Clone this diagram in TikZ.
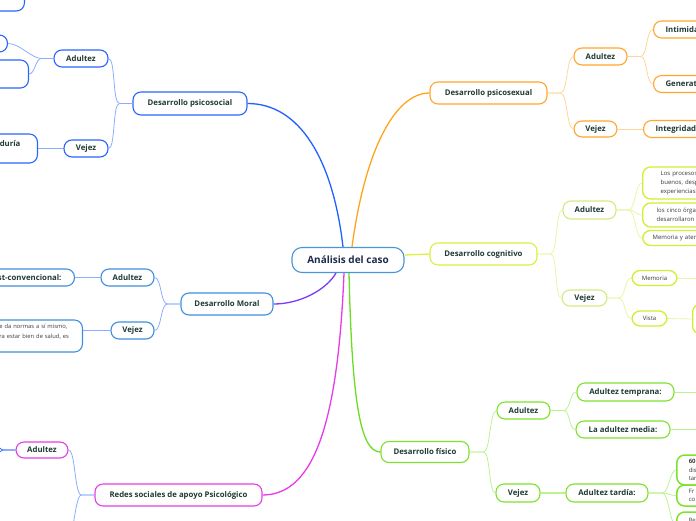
\documentclass[tikz,border=0pt]{standalone}
\usepackage{fontspec}
\setmainfont{Open Sans}
\usetikzlibrary{calc}
\definecolor{cen}{HTML}{4A94DA}
\definecolor{navy}{HTML}{1B2B4B}
\definecolor{txt}{HTML}{1E3B34}
\definecolor{leaftxt}{HTML}{3A3A3A}
\definecolor{orgB}{HTML}{FFA62B}
\definecolor{orgM}{HTML}{FFA41E}
\definecolor{orgS}{HTML}{FFD699}
\definecolor{limeB}{HTML}{D9F03A}
\definecolor{limeP}{HTML}{D3EA80}
\definecolor{limeL}{HTML}{CDF030}
\definecolor{limeM}{HTML}{DDF046}
\definecolor{limeS}{HTML}{E6F6A6}
\definecolor{grnB}{HTML}{7DE22C}
\definecolor{grnM}{HTML}{6BDD22}
\definecolor{grnS}{HTML}{BDF292}
\definecolor{bluB}{HTML}{2A64FF}
\definecolor{bluM}{HTML}{2060FF}
\definecolor{bluS}{HTML}{8EACFF}
\definecolor{bluD}{HTML}{3F70FF}
\definecolor{morB}{HTML}{3D8FE0}
\definecolor{purM}{HTML}{7B3AF5}
\definecolor{magB}{HTML}{E63DE6}
\definecolor{magM}{HTML}{E83AE8}
\tikzset{
  base/.style={draw, fill=white, rounded corners=8pt, line width=1.1pt, inner sep=0pt,
    text=txt, font=\bfseries\fontsize{7.8}{10}\selectfont},
  bx/.style n args={2}{base, minimum width=#1, minimum height=#2},
  leaf/.style={base, line width=1.3pt, text=leaftxt, font=\fontsize{6}{9}\selectfont},
  mainln/.style={line width=1.3pt},
  subln/.style={line width=0.8pt}
}
\begin{document}
\begin{tikzpicture}[x=1pt,y=-1pt]
\useasboundingbox (0,0) rectangle (696,520);
\clip (0,0) rectangle (696,520);

% central
\node[bx={112pt}{25pt}, draw=cen, rounded corners=10pt, text=navy,
  font=\bfseries\fontsize{10}{12}\selectfont] (c) at (348,260) {Análisis del caso};

% ===== right: psicosexual
\node[bx={117pt}{22pt}, draw=orgB] (psx) at (488.5,93) {Desarrollo psicosexual};
\node[bx={53pt}{17pt}, draw=orgB] (psxA) at (600.5,56.5) {Adultez};
\node[base, draw=orgB, anchor=west, minimum height=17pt, inner xsep=12pt, text width=80pt, align=left] (psxI) at (653,29.5) {Intimidad};
\node[base, draw=orgB, anchor=west, minimum height=17pt, inner xsep=12pt, text width=80pt, align=left] (psxG) at (653,84) {Generatividad};
\node[bx={43pt}{16pt}, draw=orgB] (psxV) at (595.5,129) {Vejez};
\node[base, draw=orgB, anchor=west, minimum height=17pt, inner xsep=12pt, text width=80pt, align=left] (psxIn) at (643,129) {Integridad};

\draw[subln, draw=orgS] (psx.east) -- ++(13,0) .. controls +(7,0) and +(-7,0) .. (psxA.west);
\draw[subln, draw=orgS] (psx.east) -- ++(13,0) .. controls +(7,0) and +(-7,0) .. (psxV.west);
\draw[subln, draw=orgS] (psxA.east) -- ++(13,0) .. controls +(7,0) and +(-7,0) .. (psxI.west);
\draw[subln, draw=orgS] (psxA.east) -- ++(13,0) .. controls +(7,0) and +(-7,0) .. (psxG.west);
\draw[subln, draw=orgS] (psxV.east) -- (psxIn.west);

% ===== right: cognitivo
\node[bx={107pt}{22pt}, draw=limeB] (cog) at (483.5,254) {Desarrollo cognitivo};
\node[bx={53pt}{18pt}, draw=limeP] (cogA) at (589.5,210) {Adultez};
\node[leaf, draw=limeL, anchor=west, minimum height=32pt, inner xsep=18pt, text width=80pt, align=left] (cogL1) at (642,183) {Los procesos\\buenos, desp\\experiencias};
\node[leaf, draw=limeL, anchor=west, minimum height=24pt, inner xsep=14pt, text width=80pt, align=left] (cogL2) at (642,215) {los cinco órgan\\desarrollaron e};
\node[leaf, draw=limeL, anchor=west, minimum height=15pt, inner xsep=10pt, text width=80pt, align=left] (cogL3) at (642,238) {Memoria y aten};
\node[bx={45pt}{16pt}, draw=limeP] (cogV) at (584.5,298) {Vejez};
\node[leaf, draw=limeL, minimum width=45pt, minimum height=15pt] (cogM) at (654.5,278) {Memoria};
\node[leaf, draw=limeL, minimum width=35pt, minimum height=15pt] (cogVi) at (649.5,318.5) {Vista};
\node[leaf, draw=limeL, anchor=west, minimum width=40pt, minimum height=30pt] (cogVB) at (692,319) {};
\coordinate (cogMe) at (700,278);

\draw[subln, draw=limeS] (cog.east) -- ++(13,0) .. controls +(7,0) and +(-7,0) .. (cogA.west);
\draw[subln, draw=limeS] (cog.east) -- ++(13,0) .. controls +(7,0) and +(-7,0) .. (cogV.west);
\draw[subln, draw=limeS] (cogA.east) -- ++(12,0) .. controls +(7,0) and +(-7,0) .. (cogL1.west);
\draw[subln, draw=limeS] (cogA.east) -- ++(12,0) .. controls +(7,0) and +(-7,0) .. (cogL2.west);
\draw[subln, draw=limeS] (cogA.east) -- ++(12,0) .. controls +(7,0) and +(-7,0) .. (cogL3.west);
\draw[subln, draw=limeS] (cogV.east) -- ++(11,0) .. controls +(7,0) and +(-7,0) .. (cogM.west);
\draw[subln, draw=limeS] (cogV.east) -- ++(11,0) .. controls +(7,0) and +(-7,0) .. (cogVi.west);
\draw[subln, draw=limeS] (cogM.east) -- (cogMe);
\draw[subln, draw=limeS] (cogVi.east) -- (cogVB.west);

% ===== right: fisico
\node[bx={88pt}{21pt}, draw=grnB] (fis) at (425,452) {Desarrollo físico};
\node[bx={53pt}{17pt}, draw=grnB] (fisA) at (523.5,410.5) {Adultez};
\node[bx={97pt}{18pt}, draw=grnB] (fisAT) at (625.5,392) {Adultez temprana:};
\node[bx={94pt}{17pt}, draw=grnB] (fisAM) at (623,429.5) {La adultez media:};
\node[bx={44pt}{18pt}, draw=grnB] (fisV) at (518,493) {Vejez};
\node[bx={82pt}{18pt}, draw=grnB] (fisT) at (607,493) {Adultez tardía:};
\node[leaf, draw=grnB, line width=1.5pt, anchor=west, minimum height=30pt, inner xsep=12pt, text width=60pt, align=left,
  font=\fontsize{6}{8.5}\selectfont] (fisB1) at (676,470) {\textbf{60}\\dis\\tar};
\node[leaf, draw=grnB, line width=1.5pt, anchor=west, minimum height=21pt, inner xsep=12pt, text width=60pt, align=left,
  font=\fontsize{6}{8.5}\selectfont] (fisB2) at (676,495.5) {Fr\\co};
\node[leaf, draw=grnB, line width=1.5pt, anchor=west, minimum height=26pt, inner xsep=12pt, text width=60pt, align=left,
  font=\fontsize{6}{8.5}\selectfont] (fisB3) at (676,525) {Re\\\mbox{}};
\coordinate (fisATe) at (700,392);
\coordinate (fisAMe) at (700,429.5);

\draw[subln, draw=grnS] (fis.east) -- ++(14,0) .. controls +(7,0) and +(-7,0) .. (fisA.west);
\draw[subln, draw=grnS] (fis.east) -- ++(14,0) .. controls +(7,0) and +(-7,0) .. (fisV.west);
\draw[subln, draw=grnS] (fisA.east) -- ++(13,0) .. controls +(7,0) and +(-7,0) .. (fisAT.west);
\draw[subln, draw=grnS] (fisA.east) -- ++(13,0) .. controls +(7,0) and +(-7,0) .. (fisAM.west);
\draw[subln, draw=grnS, line width=1.3pt] (fisV.east) -- (fisT.west);
\draw[subln, draw=grnS] (fisAT.east) -- (fisATe);
\draw[subln, draw=grnS] (fisAM.east) -- (fisAMe);
\draw[subln, draw=grnS] (fisT.east) -- ++(14,0) .. controls +(6,0) and +(-6,0) .. (fisB1.west);
\draw[subln, draw=grnS] (fisT.east) -- ++(14,0) .. controls +(6,0) and +(-6,0) .. (fisB2.west);
\draw[subln, draw=grnS] (fisT.east) -- ++(14,0) .. controls +(6,0) and +(-6,0) .. (fisB3.west);

% ===== left: psicosocial
\node[bx={114pt}{23pt}, draw=bluB] (pss) at (190,103.5) {Desarrollo psicosocial};
\node[bx={54pt}{17pt}, draw=bluB] (pssA) at (81,58.5) {Adultez};
\node[base, draw=bluB, anchor=east, minimum width=60pt, minimum height=17pt] (pssB1) at (8,43.5) {};
\node[base, draw=bluB, anchor=east, minimum width=80pt, minimum height=28pt] (pssB2) at (29,74) {};
\node[base, draw=bluB, anchor=south east, minimum width=80pt, minimum height=30pt] (pssTop) at (25,11.5) {};
\node[bx={44pt}{17pt}, draw=bluB] (pssV) at (86,148.5) {Vejez};
\node[base, draw=bluB, anchor=east, minimum height=29pt, inner xsep=17pt, text width=50pt, align=right] (pssS) at (38,148.5) {Sabiduría\\\mbox{}};

\draw[subln, draw=bluS] (pss.west) -- ++(-13,0) .. controls +(-7,0) and +(7,0) .. (pssA.east);
\draw[subln, draw=bluS] (pss.west) -- ++(-13,0) .. controls +(-7,0) and +(7,0) .. (pssV.east);
\draw[subln, draw=bluS] (pssA.west) -- ++(-12,0) .. controls +(-10,0) and +(12,0) .. (pssB1.east);
\draw[subln, draw=bluS] (pssA.west) -- ++(-12,0) .. controls +(-6,0) and +(6,0) .. (pssB2.east);
\draw[subln, draw=bluS] (pssV.west) -- (pssS.east);

% ===== left: moral
\node[bx={92pt}{22pt}, draw=morB] (mor) at (227,304) {Desarrollo Moral};
\node[bx={53pt}{17pt}, draw=morB] (morA) at (127.5,277.5) {Adultez};
\node[base, draw=morB, anchor=east, minimum height=17pt, inner xsep=13pt, text width=90pt, align=right] (morP) at (75,277.5) {Post-convencional:};
\node[bx={43pt}{17pt}, draw=morB] (morV) at (132.5,330.5) {Vejez};
\node[leaf, draw=morB, line width=1.1pt, anchor=east, minimum height=32pt, inner xsep=13pt, text width=70pt, align=left,
  font=\fontsize{5.8}{9.5}\selectfont] (morT) at (83,336) {e da normas a sí mismo,\\ra estar bien de salud, es\\\mbox{}};

\draw[subln, draw=bluS] (mor.west) -- ++(-13,0) .. controls +(-7,0) and +(7,0) .. (morA.east);
\draw[subln, draw=bluS] (mor.west) -- ++(-13,0) .. controls +(-7,0) and +(7,0) .. (morV.east);
\draw[subln, draw=bluS] (morA.west) -- (morP.east);
\draw[subln, draw=bluS] (morV.west) -- (morV.west -| morT.east);

% ===== left: redes
\node[bx={167pt}{22pt}, draw=magB] (red) at (178.5,495) {Redes sociales de apoyo Psicológico};
\node[bx={52pt}{16pt}, draw=magB] (redA) at (42,450) {Adultez};
\coordinate (redV) at (66,548);
\coordinate (ra1) at (-12,436);
\coordinate (ra2) at (-12,464);

\draw[subln, draw=bluS] (red.west) -- ++(-13,0) .. controls +(-7,0) and +(7,0) .. (redA.east);
\draw[subln, draw=bluS] (red.west) -- ++(-13,0) .. controls +(-7,0) and +(7,0) .. (redV);
\draw[subln, draw=bluD] (redA.west) -- ++(-12,0) .. controls +(-5,0) and +(5,0) .. (ra1);
\draw[subln, draw=bluD] (redA.west) -- ++(-12,0) .. controls +(-5,0) and +(5,0) .. (ra2);

% ===== main connectors
\draw[mainln, draw=bluM] ([xshift=-5pt]c.north) .. controls (333,160) and (300,103.5) .. (pss.east);
\draw[mainln, draw=orgM] ([xshift=4pt]c.north) .. controls (365,150) and (395,93) .. (psx.west);
\draw[mainln, draw=limeM] ([yshift=5pt]c.east) -- (cog.west);
\draw[mainln, draw=purM] ([xshift=-12pt]c.south) .. controls (326,290) and (300,304) .. (mor.east);
\draw[mainln, draw=magM] ([xshift=-4pt]c.south) .. controls (338,420) and (315,495) .. (red.east);
\draw[mainln, draw=grnM] ([xshift=1pt]c.south) .. controls (352,400) and (360,452) .. (fis.west);
\end{tikzpicture}
\end{document}
